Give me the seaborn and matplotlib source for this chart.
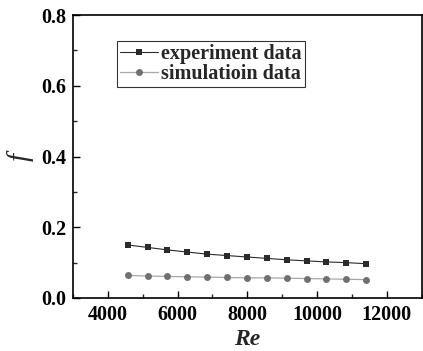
import numpy as np
import pandas as pd
import matplotlib
matplotlib.use("Agg")
import matplotlib.pyplot as plt
import seaborn as sns
from matplotlib.ticker import MultipleLocator

re_values = [4570, 5140, 5710, 6280, 6850, 7420, 7990, 8560, 9130, 9700, 10270, 10840, 11410]
f_experiment = [0.150, 0.143, 0.136, 0.130, 0.124, 0.120, 0.116, 0.112, 0.108, 0.105, 0.102, 0.100, 0.097]
f_simulation = [0.064, 0.062, 0.061, 0.060, 0.059, 0.058, 0.057, 0.057, 0.056, 0.055, 0.054, 0.053, 0.052]
series_names = ["experiment data", "simulatioin data"]

sns.set_theme(style="ticks")
plt.rcParams['font.family'] = ['Liberation Serif', 'DejaVu Serif']

fig = plt.figure(figsize=(4.23, 3.51), dpi=100)
ax = fig.add_axes([0.1726, 0.151, 0.824, 0.806])

df_exp = pd.DataFrame({"Re": re_values, "f": f_experiment})
df_sim = pd.DataFrame({"Re": re_values, "f": f_simulation})

sns.lineplot(data=df_exp, x="Re", y="f", ax=ax, color="#2b2b2b", linewidth=0.8,
             marker="s", markersize=4.4, markeredgewidth=0, label=series_names[0])
sns.lineplot(data=df_sim, x="Re", y="f", ax=ax, color="#a8a8a8", linewidth=0.9,
             marker="o", markersize=5.0, markeredgewidth=0, markerfacecolor="#707070",
             label=series_names[1])

ax.set_xlim(3000, 13000)
ax.set_ylim(0.0, 0.8)
ax.set_xticks([4000, 6000, 8000, 10000, 12000])
ax.set_yticks([0.0, 0.2, 0.4, 0.6, 0.8])
ax.set_yticklabels(["0.0", "0.2", "0.4", "0.6", "0.8"])
ax.xaxis.set_minor_locator(MultipleLocator(1000))
ax.yaxis.set_minor_locator(MultipleLocator(0.1))
ax.tick_params(axis="both", which="major", direction="in", length=5, width=1.0,
               labelsize=14.5, colors="black", pad=5)
ax.tick_params(axis="both", which="minor", direction="in", length=3, width=1.0)
ax.tick_params(top=False, right=False, which="both")
for lab in ax.get_xticklabels() + ax.get_yticklabels():
    lab.set_fontweight("bold")

for sp in ax.spines.values():
    sp.set_visible(True)
    sp.set_linewidth(1.2)
    sp.set_color("black")

ax.set_xlabel("Re", fontsize=17, fontstyle="italic", fontweight="bold", labelpad=3)
ax.set_ylabel("f", fontsize=21, fontstyle="italic", labelpad=5)

leg = ax.legend(loc="upper left", bbox_to_anchor=(0.126, 0.908), frameon=True, fancybox=False,
                edgecolor="black", handlelength=1.9, handletextpad=0.15,
                borderpad=0.15, labelspacing=0.0, borderaxespad=0,
                prop={"size": 14.5, "weight": "bold"})
leg.get_frame().set_linewidth(0.8)

fig.savefig("out.png", dpi=100)
